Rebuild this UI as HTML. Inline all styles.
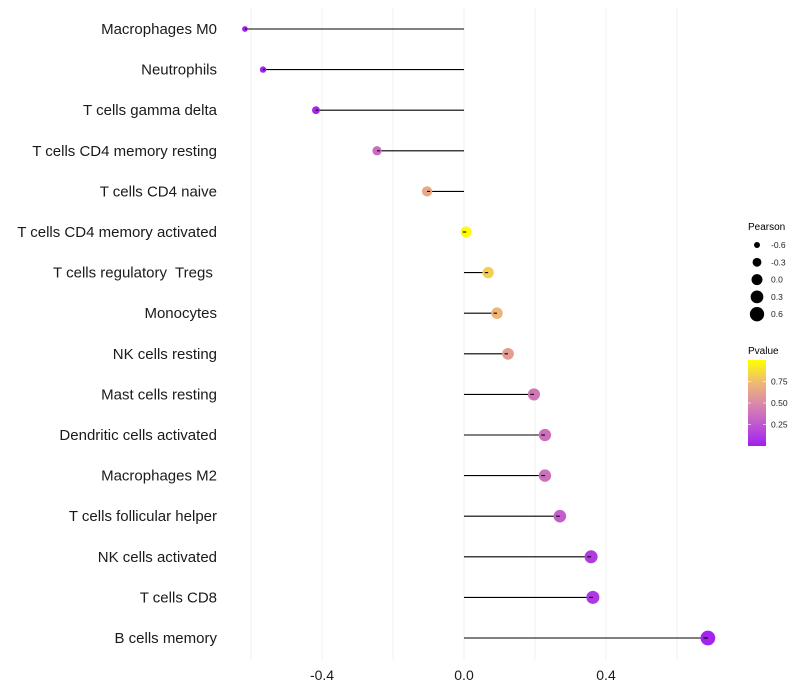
<!DOCTYPE html>
<html><head><meta charset="utf-8"><style>
body{margin:0;background:#fff;font-family:"Liberation Sans",sans-serif}
svg{display:block}
text{white-space:pre}
</style></head><body>
<svg id="chart" width="800" height="700" xmlns="http://www.w3.org/2000/svg">
<defs><linearGradient id="pg" x1="0" y1="1" x2="0" y2="0">
<stop offset="0" stop-color="#A020F0"/><stop offset="0.25" stop-color="#C058D0"/><stop offset="0.5" stop-color="#DA8AA8"/><stop offset="0.75" stop-color="#F0BC70"/><stop offset="1" stop-color="#FFFF00"/>
</linearGradient></defs>
<g id="grid"></g>
<g id="marks"></g>
<g id="ylabels"></g>
<g id="xlabels"></g>
<g id="sizeLegend">
<text x="748" y="230" font-size="10" fill="#000">Pearson</text>
</g>
<g>
<text x="748" y="354" font-size="10" fill="#000">Pvalue</text>
<rect x="748" y="360" width="18" height="86" fill="url(#pg)"/>
<g id="cbticks"></g>
</g>
</svg>
<script>
const categories=["Macrophages M0","Neutrophils","T cells gamma delta","T cells CD4 memory resting","T cells CD4 naive","T cells CD4 memory activated","T cells regulatory  Tregs ","Monocytes","NK cells resting","Mast cells resting","Dendritic cells activated","Macrophages M2","T cells follicular helper","NK cells activated","T cells CD8","B cells memory"];
const pearson=[-0.617,-0.566,-0.417,-0.245,-0.104,0.006,0.068,0.093,0.124,0.197,0.228,0.228,0.270,0.358,0.363,0.687];
const pvalues=[0.001,0.005,0.02,0.35,0.65,0.98,0.82,0.72,0.6,0.4,0.37,0.37,0.28,0.12,0.11,0.02];
const xTicks=[-0.4,0.0,0.4];
const xGrid=[-0.6,-0.4,-0.2,0,0.2,0.4,0.6];
const sizeLegendVals=[-0.6,-0.3,0.0,0.3,0.6];
const cbTicks=[0.25,0.5,0.75];

const NS="http://www.w3.org/2000/svg";
const xs=v=>464+v*355;
const ys=i=>29+i*40.6;
const rs=v=>Math.sqrt(Math.max(4,30+35*v));
const stops=[[0,[160,32,240]],[0.25,[192,88,208]],[0.5,[218,138,168]],[0.75,[240,188,112]],[1,[255,255,0]]];
function col(p){for(let i=0;i<stops.length-1;i++){const [a,ca]=stops[i],[b,cb]=stops[i+1];if(p<=b){const t=(p-a)/(b-a);return "rgb("+ca.map((c,k)=>Math.round(c+(cb[k]-c)*t)).join(",")+")";}}return "rgb(255,255,0)";}
function mk(tag,attrs,parent){const e=document.createElementNS(NS,tag);for(const k in attrs)e.setAttribute(k,attrs[k]);parent.appendChild(e);return e;}
const grid=document.getElementById('grid'),marks=document.getElementById('marks'),yl=document.getElementById('ylabels'),xl=document.getElementById('xlabels');
xGrid.forEach(v=>{const l=mk('line',{x1:xs(v),x2:xs(v),y1:8,y2:660,stroke:"#f0f0f0","stroke-width":1},grid);

});
categories.forEach((c,i)=>{
const y=ys(i);
const t=mk('text',{x:217,y:y+5,"text-anchor":"end","font-size":15,fill:"#1a1a1a"},yl);t.textContent=c;


const ln=mk('line',{x1:xs(0),x2:xs(pearson[i]),y1:y,y2:y,stroke:"#000","stroke-width":1.1},marks);


const d=mk('circle',{cx:xs(pearson[i]),cy:y,r:rs(pearson[i]),fill:col(pvalues[i])},marks);


const dir=pearson[i]>=0?-1:1;
const ln2=mk('line',{x1:xs(pearson[i]),x2:xs(pearson[i])+dir*rs(pearson[i])*0.6,y1:y,y2:y,stroke:"#000","stroke-width":1.1},marks);


});
xTicks.forEach(v=>{const t=mk('text',{x:xs(v),y:680,"text-anchor":"middle","font-size":14,fill:"#1a1a1a"},xl);t.textContent=v.toFixed(1);

});
const sl=document.getElementById('sizeLegend');
sizeLegendVals.forEach((v,i)=>{const y=245+i*17.3;
const c=mk('circle',{cx:757,cy:y,r:rs(v),fill:"#000"},sl);


const t=mk('text',{x:771,y:y+3,"font-size":8.5,fill:"#222"},sl);t.textContent=v.toFixed(1);

});
const cbt=document.getElementById('cbticks');
cbTicks.forEach(v=>{const y=446-v*86;
mk('line',{x1:748,x2:751,y1:y,y2:y,stroke:"#fff","stroke-opacity":0.6},cbt);
mk('line',{x1:763,x2:766,y1:y,y2:y,stroke:"#fff","stroke-opacity":0.6},cbt);
const t=mk('text',{x:771,y:y+3,"font-size":8.5,fill:"#222"},cbt);t.textContent=v.toFixed(2);

});
</script>
</body></html>
